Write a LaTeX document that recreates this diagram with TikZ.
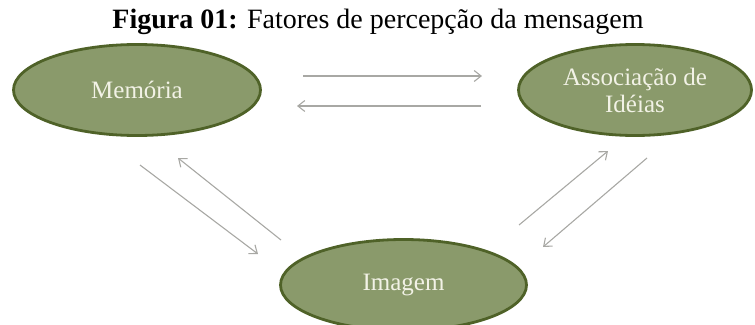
\documentclass[tikz,border=0pt]{standalone}
\usepackage{fontspec}
\setmainfont{Liberation Serif}
\usetikzlibrary{shapes.geometric, arrows.meta}

\definecolor{olivefill}{HTML}{8A9A6B}
\definecolor{olivedark}{HTML}{4F6228}
\definecolor{creme}{HTML}{F2F2E6}
\definecolor{cinza}{HTML}{A8A8A4}

\begin{document}
\begin{tikzpicture}[x=1pt, y=-1pt,
  ideia/.style={ellipse, draw=olivedark, line width=2.8pt, fill=olivefill,
    text=creme, font=\fontsize{25}{27}\selectfont, align=center, inner sep=0pt,
    minimum height=91pt},
  seta/.style={draw=cinza, line width=1.1pt,
    -{Straight Barb[length=7pt, width=11pt]}}]
  \useasboundingbox (0,0) rectangle (755,324);

  % Title
  \node (titulo) at (378,28) [anchor=base, font=\fontsize{28}{32}\selectfont]
    {\textbf{Figura 01:} Fatores de percepção da mensagem};

  % The three factors
  \node (memoria) at (137,90) [ideia, minimum width=247pt] {Memória};
  \node (assoc) at (635,90) [ideia, minimum width=233pt] {Associação de\\Idéias};
  \node (imagem) at (403.5,285) [ideia, minimum width=246pt] {Imagem};

  % Arrow ends
  \coordinate (m1) at (303,76);  \coordinate (a1) at (482,76);
  \coordinate (a2) at (481,106); \coordinate (m2) at (297,106);
  \coordinate (m3) at (140,165); \coordinate (i3) at (258,254);
  \coordinate (i4) at (281,240); \coordinate (m4) at (178,158);
  \coordinate (i5) at (519,225); \coordinate (a5) at (608,151);
  \coordinate (a6) at (647,158); \coordinate (i6) at (543,247);

  % Arrows between the factors
  \draw[seta] (m1) -- (a1);
  \draw[seta] (a2) -- (m2);
  \draw[seta] (m3) -- (i3);
  \draw[seta] (i4) -- (m4);
  \draw[seta] (i5) -- (a5);
  \draw[seta] (a6) -- (i6);
\end{tikzpicture}
\end{document}
